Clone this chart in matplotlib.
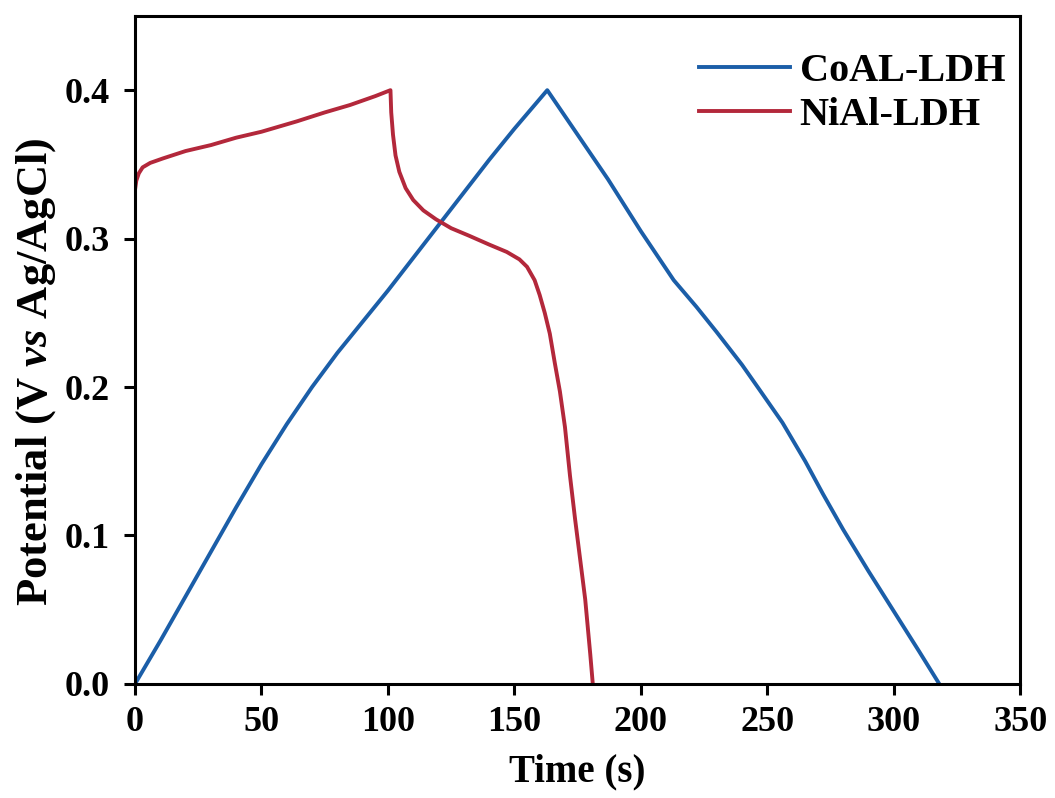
import matplotlib
matplotlib.use("Agg")
import matplotlib.pyplot as plt

# charge/discharge curves
coal_t = [0, 10, 20, 30, 40, 50, 60, 70, 80, 90, 100, 110, 120, 130, 140, 150, 163,
          175, 187, 200, 213, 222, 230, 240, 247, 256, 265, 272, 280, 290, 300, 310, 318]
coal_v = [0, 0.029, 0.059, 0.089, 0.119, 0.148, 0.175, 0.200, 0.223, 0.244, 0.265,
          0.287, 0.309, 0.331, 0.353, 0.374, 0.40,
          0.37, 0.34, 0.305, 0.272, 0.254, 0.237, 0.215, 0.198, 0.176, 0.150, 0.128,
          0.104, 0.076, 0.049, 0.022, 0.0]

nial_t = [0, 0.5, 1.5, 3, 6, 11, 20, 30, 40, 50, 64, 75, 85, 95, 101,
          101.3, 102, 103, 104.5, 107, 110, 114, 119, 125, 132, 140, 147, 152, 155,
          158, 160, 162, 164, 166, 168, 170, 172, 174, 176, 178, 180, 181]
nial_v = [0.333, 0.339, 0.344, 0.348, 0.351, 0.354, 0.359, 0.363, 0.368, 0.372, 0.379,
          0.385, 0.390, 0.396, 0.40,
          0.385, 0.37, 0.356, 0.345, 0.334, 0.326, 0.319, 0.313, 0.307, 0.302, 0.296,
          0.291, 0.286, 0.281, 0.272, 0.262, 0.25, 0.236, 0.216, 0.197, 0.173, 0.14,
          0.111, 0.084, 0.057, 0.02, 0.0]

x_ticks = [0, 50, 100, 150, 200, 250, 300, 350]
y_ticks = [0.0, 0.1, 0.2, 0.3, 0.4]

plt.rcParams['font.family'] = 'Liberation Serif'
plt.rcParams['font.weight'] = 'bold'
plt.rcParams['mathtext.fontset'] = 'custom'
plt.rcParams['mathtext.rm'] = 'Liberation Serif:bold'
plt.rcParams['mathtext.it'] = 'Liberation Serif:italic:bold'

fig = plt.figure(figsize=(10.55, 7.98), dpi=100)
ax = fig.add_axes([0.128, 0.143, 0.839, 0.837])

ax.plot(coal_t, coal_v, color='#1b5ea8', lw=2.8, label='CoAL-LDH')
ax.plot(nial_t, nial_v, color='#b3283b', lw=2.8, label='NiAl-LDH')

ax.set_xlim(0, 350)
ax.set_ylim(0, 0.45)
ax.set_xticks(x_ticks)
ax.set_yticks(y_ticks)
ax.set_xticklabels([str(t) for t in x_ticks])
ax.set_yticklabels([f"{t:.1f}" for t in y_ticks])
ax.tick_params(direction='out', length=8, width=2.2, labelsize=26, pad=8)
ax.tick_params(axis='y', pad=10)
for s in ax.spines.values():
    s.set_linewidth(2.2)

ax.set_xlabel("Time (s)", fontsize=28, fontweight='bold', labelpad=10)
ax.set_ylabel(r"Potential (V $\it{vs}$ Ag/AgCl)", fontsize=32, fontweight='bold')
ax.yaxis.set_label_coords(-0.087, 0.467)

leg = ax.legend(loc='upper right', bbox_to_anchor=(0.983, 0.945), frameon=False,
                fontsize=29, handlelength=2.25, handletextpad=0.25, labelspacing=0.175,
                borderpad=0, borderaxespad=0)

plt.savefig("out.png", dpi=100)
